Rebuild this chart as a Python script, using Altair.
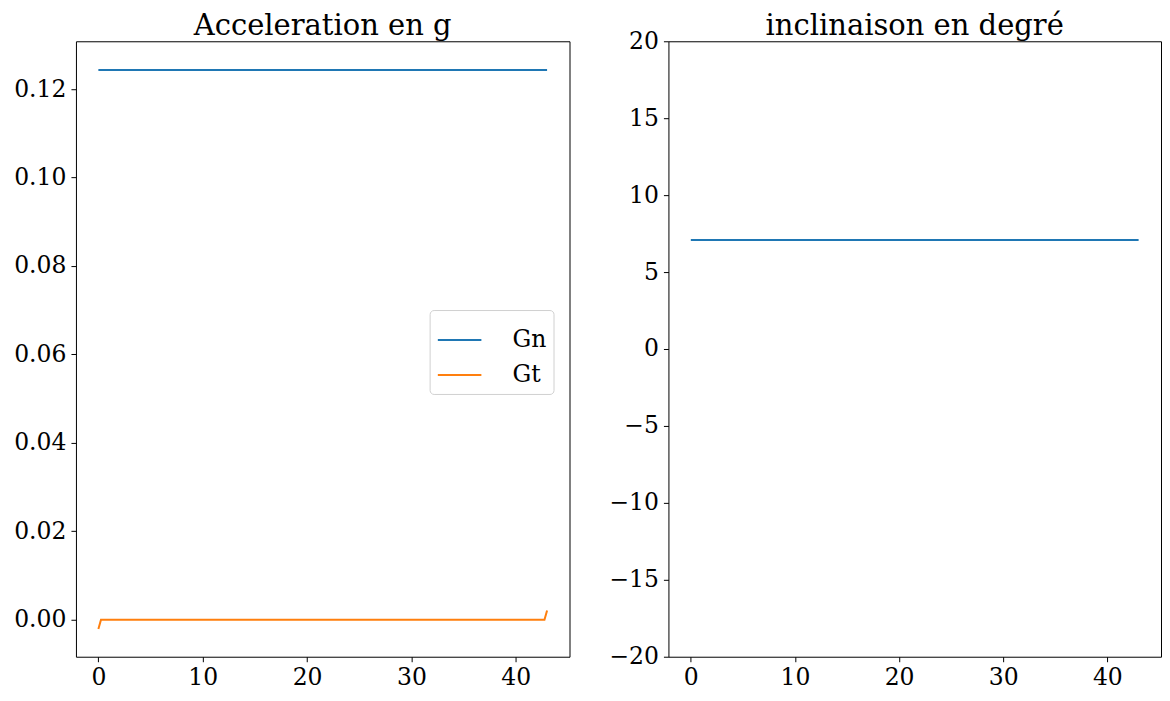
import altair as alt
import pandas as pd

# time (s)
t = [0, 0.25, 1, 2, 3, 4, 5, 6, 7, 8, 9, 10, 11, 12, 13, 14, 15, 16, 17, 18, 19, 20,
     21, 22, 23, 24, 25, 26, 27, 28, 29, 30, 31, 32, 33, 34, 35, 36, 37, 38, 39, 40,
     41, 42, 42.75, 43]

# normal acceleration (g)
gn = [0.12430, 0.12430, 0.12432, 0.12430, 0.12428, 0.12430, 0.12432, 0.12430, 0.12428, 0.12430,
      0.12432, 0.12430, 0.12428, 0.12430, 0.12432, 0.12430, 0.12428, 0.12430, 0.12432, 0.12430,
      0.12428, 0.12430, 0.12432, 0.12430, 0.12428, 0.12430, 0.12432, 0.12430, 0.12428, 0.12430,
      0.12432, 0.12430, 0.12428, 0.12430, 0.12432, 0.12430, 0.12428, 0.12430, 0.12432, 0.12430,
      0.12428, 0.12430, 0.12432, 0.12430, 0.12430, 0.12430]

# tangential acceleration (g)
gt = [-0.0021, 0.0000, 0.0000, 0.0000, 0.0000, 0.0000, -0.00002, 0.0000, 0.0000, 0.0000,
      0.0000, 0.0000, 0.0000, 0.0000, -0.00002, 0.0000, 0.0000, 0.0000, 0.0000, 0.0000,
      0.0000, 0.0000, 0.0000, 0.0000, 0.0000, 0.0000, 0.0000, 0.0000, 0.0000, 0.0000,
      0.0000, 0.0000, 0.0000, 0.0000, 0.0000, 0.0000, 0.0000, 0.0000, 0.0000, 0.0000,
      0.0000, 0.0000, 0.0000, 0.0000, 0.0000, 0.0021]

# inclination (degrees)
incl = [7.09, 7.09, 7.09, 7.09, 7.09, 7.09, 7.09, 7.09, 7.09, 7.09,
        7.09, 7.09, 7.09, 7.09, 7.09, 7.09, 7.09, 7.09, 7.09, 7.09,
        7.09, 7.09, 7.09, 7.09, 7.09, 7.09, 7.09, 7.09, 7.09, 7.09,
        7.09, 7.09, 7.09, 7.09, 7.09, 7.09, 7.09, 7.09, 7.09, 7.09,
        7.09, 7.09, 7.09, 7.09, 7.09, 7.09]

series_names = ["Gn", "Gt"]
series_colors = ["#1f77b4", "#ff7f0e"]
x_ticks = [0, 10, 20, 30, 40]
yl_ticks = [0.0, 0.02, 0.04, 0.06, 0.08, 0.10, 0.12]
yr_ticks = [-20, -15, -10, -5, 0, 5, 10, 15, 20]

acc = pd.DataFrame({
    "t": t + t,
    "val": gn + gt,
    "serie": ["Gn"] * len(t) + ["Gt"] * len(t),
})
inc = pd.DataFrame({"t": t, "deg": incl})

FS = 23.5
xscale = alt.Scale(domain=[-2.15, 45.15], nice=False, zero=False)
xaxis = alt.Axis(values=x_ticks, format="d", title=None, labelPadding=4)

left = alt.Chart(acc).mark_line(strokeWidth=2).encode(
    x=alt.X("t:Q", scale=xscale, axis=xaxis),
    y=alt.Y("val:Q", scale=alt.Scale(domain=[-0.00836, 0.1308], nice=False, zero=False),
            axis=alt.Axis(values=yl_ticks, format=".2f", title=None)),
    color=alt.Color("serie:N",
                    scale=alt.Scale(domain=series_names, range=series_colors),
                    legend=alt.Legend(
                        title=None, orient="none", legendX=354, legendY=269,
                        symbolType="stroke", symbolStrokeWidth=2, symbolSize=1900,
                        labelFont="DejaVu Serif", labelFontSize=FS, labelColor="black",
                        labelOffset=30, fillColor="white", strokeColor="#d0d0d0",
                        cornerRadius=4, padding=7, rowPadding=-13)),
).properties(width=494, height=616,
             title=alt.TitleParams("Acceleration en g", offset=0))

right = alt.Chart(inc).mark_line(strokeWidth=2, color="#1f77b4").encode(
    x=alt.X("t:Q", scale=xscale, axis=xaxis),
    y=alt.Y("deg:Q", scale=alt.Scale(domain=[-20, 20], nice=False, zero=False),
            axis=alt.Axis(values=yr_ticks, format="d", title=None)),
).properties(width=493, height=616,
             title=alt.TitleParams("inclinaison en degré", offset=-12))

chart = alt.hconcat(left, right, spacing=37).resolve_legend(color="independent").configure_view(
    stroke="black", strokeWidth=1
).configure_axis(
    grid=False, domain=False, ticks=True, tickColor="black", tickSize=5, tickWidth=1,
    labelFont="DejaVu Serif", labelFontSize=FS, labelColor="black", labelPadding=5,
).configure_title(
    font="DejaVu Serif", fontSize=29, fontWeight="normal", color="black", anchor="middle"
).properties(
    padding={"left": 5, "top": 3, "right": 0, "bottom": 0}, background="white"
)

chart.save("out.html", embed_options={"renderer": "svg", "actions": False})
